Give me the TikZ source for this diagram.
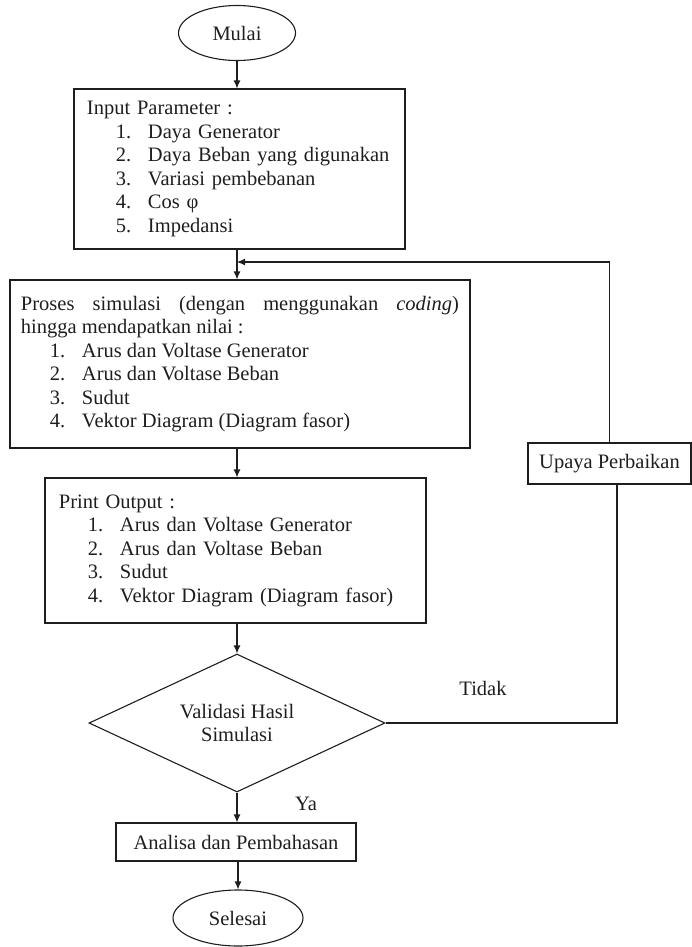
\documentclass[tikz,border=0pt]{standalone}
\usepackage{fontspec}
\setmainfont{Liberation Serif}
\usetikzlibrary{shapes.geometric,arrows.meta}

\definecolor{ink}{HTML}{1E1E1E}
% numbered entry of a list inside a box
\newcommand\itm[2]{\hspace*{29bp}\makebox[32bp][l]{#1}#2}

\begin{document}
\begin{tikzpicture}[x=1bp,y=-1bp,
  every node/.style={text=ink, font=\fontsize{20.5bp}{23.5bp}\selectfont},
  box/.style={draw=ink, line width=1.1bp, inner ysep=0pt, align=left},
  term/.style={draw=ink, line width=1.1bp, ellipse, inner sep=0pt},
  decision/.style={draw=ink, line width=1.1bp, diamond, aspect=2.14, inner sep=0pt, align=center},
  arr/.style={draw=ink, line width=1.1bp, -{Latex[length=8bp,width=7bp]}},
  link/.style={draw=ink, line width=1.1bp}]

\useasboundingbox (0,0) rectangle (692,947);

% terminals
\node[term, minimum width=117bp, minimum height=55bp] (mulai) at (237,33) {Mulai};
\node[term, minimum width=130bp, minimum height=56bp] (selesai) at (238,918) {Selesai};

% input parameters
\node[box, minimum width=331bp, minimum height=160bp, inner xsep=13bp, text width=305bp]
  (input) at (239.5,169) {Input Parameter :\\
  \itm{1.}{Daya Generator}\\
  \itm{2.}{Daya Beban yang digunakan}\\
  \itm{3.}{Variasi pembebanan}\\
  \itm{4.}{Cos \symbol{"03C6}}\\
  \itm{5.}{Impedansi}};

% simulation process
\node[box, align=justify, minimum width=460bp, minimum height=168bp, inner xsep=11bp, text width=438bp]
  (proses) at (240,364) {Proses simulasi (dengan menggunakan \textit{coding})\linebreak
  hingga mendapatkan nilai :\\
  \itm{1.}{Arus dan Voltase Generator}\\
  \itm{2.}{Arus dan Voltase Beban}\\
  \itm{3.}{Sudut}\\
  \itm{4.}{Vektor Diagram (Diagram fasor)}};

% printed output
\node[box, minimum width=381bp, minimum height=145bp, inner xsep=14bp, text width=353bp]
  (print) at (235.5,550.5) {Print Output :\\
  \itm{1.}{Arus dan Voltase Generator}\\
  \itm{2.}{Arus dan Voltase Beban}\\
  \itm{3.}{Sudut}\\
  \itm{4.}{Vektor Diagram (Diagram fasor)}};

% validation
\node[decision, minimum width=296bp, minimum height=138bp] (valid) at (237,723)
  {Validasi Hasil\\Simulasi};

% analysis
\node[box, align=center, minimum width=240bp, minimum height=38bp, inner xsep=0pt]
  (analisa) at (236,842) {Analisa dan Pembahasan};

% correction
\node[box, align=center, minimum width=163bp, minimum height=41bp, inner xsep=0pt]
  (upaya) at (609.5,463.5) {Upaya Perbaikan};

% branch labels
\node (tidak) at (483,688) {Tidak};
\node (ya) at (306,804) {Ya};

% main flow
\coordinate (junc) at (237,262);
\coordinate (turn) at (617,723);
\draw[arr] (mulai.south) -- (mulai.south |- input.north);
\draw[arr] (input.south -| mulai) -- (proses.north -| mulai);
\draw[arr] (proses.south -| mulai) -- (print.north -| mulai);
\draw[arr] (print.south -| valid) -- (valid.north);
\draw[arr] (valid.south) -- (analisa.north -| valid);
\draw[arr] (analisa.south -| selesai) -- (selesai.north);

% loop back for correction
\draw[link] (valid.east) -- (turn) -- (turn |- upaya.south);
\draw[arr] (upaya.north) |- (junc);
\end{tikzpicture}
\end{document}
